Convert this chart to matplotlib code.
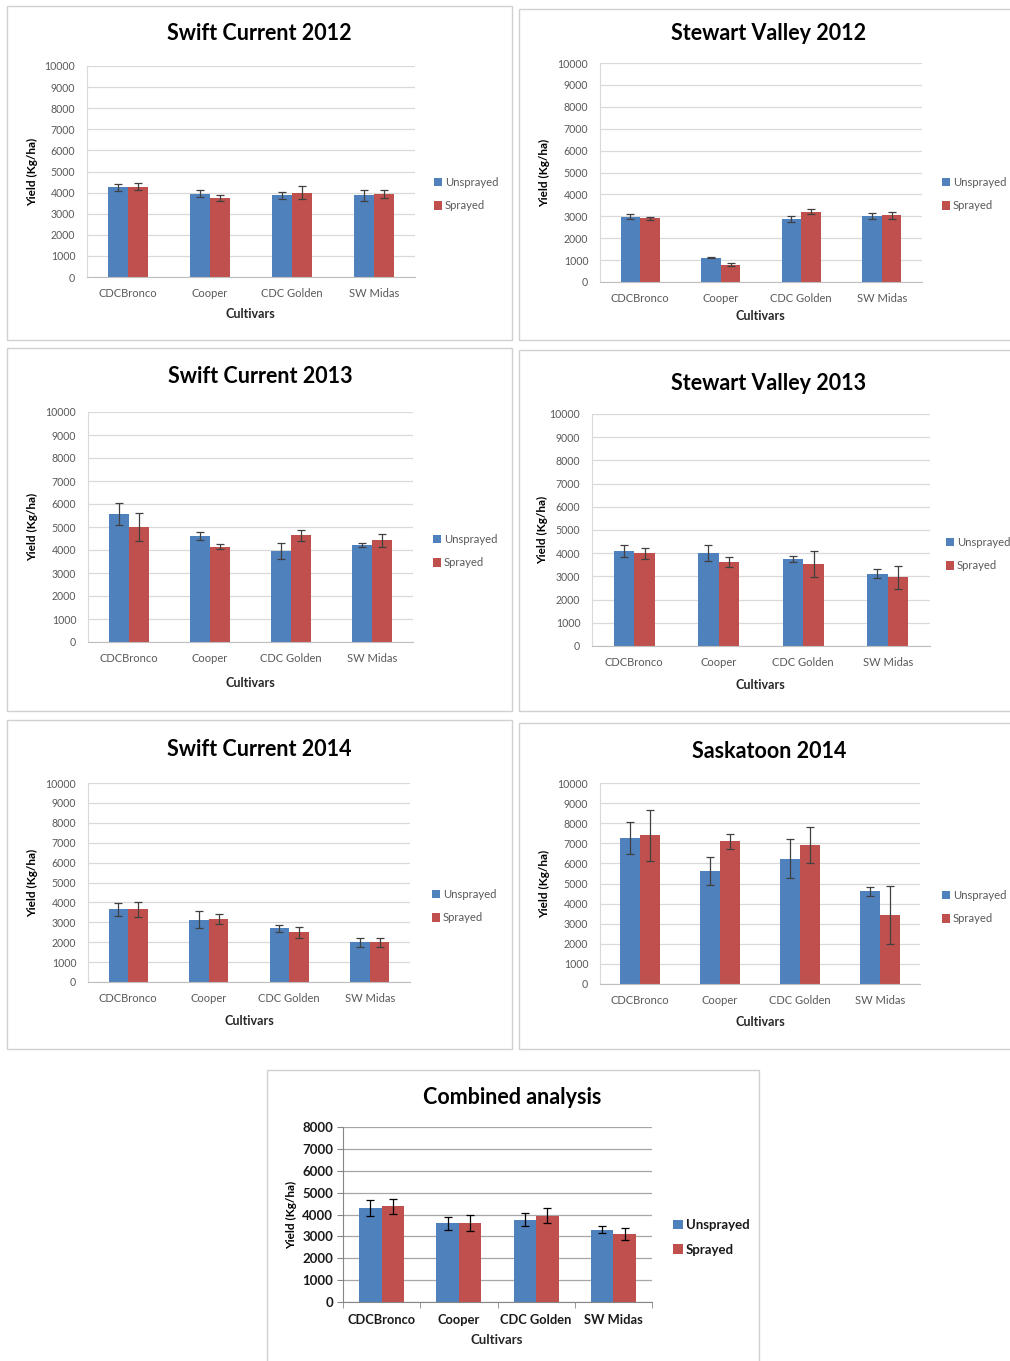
import matplotlib
matplotlib.use("Agg")
import matplotlib.pyplot as plt
from matplotlib.patches import Rectangle, Patch
import numpy as np

plt.rcParams['font.family'] = ['Lato', 'DejaVu Sans']

cultivars = ["CDCBronco", "Cooper", "CDC Golden", "SW Midas"]
series_names = ["Unsprayed", "Sprayed"]

# Swift Current 2012
sc2012_unsprayed = [4250, 3950, 3870, 3870]
sc2012_unsprayed_err = [170, 150, 150, 270]
sc2012_sprayed = [4280, 3750, 4000, 3920]
sc2012_sprayed_err = [180, 140, 290, 190]

# Stewart Valley 2012
sv2012_unsprayed = [2990, 1115, 2870, 3010]
sv2012_unsprayed_err = [110, 30, 145, 150]
sv2012_sprayed = [2900, 795, 3200, 3040]
sv2012_sprayed_err = [70, 75, 115, 175]

# Swift Current 2013
sc2013_unsprayed = [5580, 4620, 3970, 4220]
sc2013_unsprayed_err = [480, 165, 340, 70]
sc2013_sprayed = [4990, 4150, 4640, 4420]
sc2013_sprayed_err = [620, 120, 250, 275]

# Stewart Valley 2013
sv2013_unsprayed = [4100, 3990, 3730, 3120]
sv2013_unsprayed_err = [260, 345, 130, 180]
sv2013_sprayed = [3990, 3610, 3530, 2960]
sv2013_sprayed_err = [245, 215, 575, 500]

# Swift Current 2014
sc2014_unsprayed = [3650, 3140, 2690, 2000]
sc2014_unsprayed_err = [310, 410, 195, 220]
sc2014_sprayed = [3650, 3160, 2500, 2000]
sc2014_sprayed_err = [385, 250, 275, 220]

# Saskatoon 2014
sk2014_unsprayed = [7270, 5610, 6230, 4620]
sk2014_unsprayed_err = [800, 700, 970, 220]
sk2014_sprayed = [7400, 7100, 6920, 3440]
sk2014_sprayed_err = [1260, 360, 900, 1440]

# Combined analysis
comb_unsprayed = [4290, 3590, 3770, 3310]
comb_unsprayed_err = [370, 300, 305, 175]
comb_sprayed = [4370, 3620, 3950, 3115]
comb_sprayed_err = [335, 380, 345, 260]

BLUE = "#4F81BD"
RED = "#C0504D"
GRID = "#D9D9D9"
FRAME = "#D0D0D0"

W, H = 1010, 1361
fig = plt.figure(figsize=(W / 100, H / 100), dpi=100)
fig.patch.set_facecolor("white")


def fx(x):
    return x / W


def fy(y):
    return 1 - y / H


def frame(x0, y0, x1, y1):
    fig.patches.append(Rectangle((fx(x0), fy(y1)), fx(x1 - x0), (y1 - y0) / H,
                                 transform=fig.transFigure, fill=False,
                                 edgecolor=FRAME, linewidth=1.0, zorder=0))


def panel(box, title, title_xy, unspr, unspr_err, spr, spr_err, leg_xy, xlab_xy,
          ylab_x, ymax=10000, ystep=1000, width=0.245, combined=False):
    x0, y0, x1, y1 = box
    ax = fig.add_axes([fx(x0), fy(y1), fx(x1 - x0), (y1 - y0) / H])
    idx = np.arange(len(cultivars))
    ecol = "#000000" if combined else "#404040"
    ax.bar(idx - width / 2, unspr, width, color=BLUE, zorder=2,
           yerr=unspr_err, error_kw=dict(ecolor=ecol, elinewidth=0.9, capsize=3, capthick=0.9))
    ax.bar(idx + width / 2, spr, width, color=RED, zorder=2,
           yerr=spr_err, error_kw=dict(ecolor=ecol, elinewidth=0.9, capsize=3, capthick=0.9))
    ax.set_xlim(-0.5, len(cultivars) - 0.5)
    ax.set_ylim(0, ymax)
    ax.set_yticks(np.arange(0, ymax + 1, ystep))
    ax.yaxis.grid(True, color=GRID if not combined else "#A6A6A6", linewidth=0.9, zorder=0)
    ax.set_axisbelow(True)
    for s in ("top", "right"):
        ax.spines[s].set_visible(False)
    if combined:
        ax.spines["left"].set_color("#868686")
        ax.spines["bottom"].set_color("#868686")
        ax.set_xticks(idx)
        ax.set_xticklabels(cultivars, fontsize=9.3, fontweight="bold", color="#1A1A1A")
        ax.set_xticks(np.arange(-0.5, len(cultivars), 1.0), minor=True)
        ax.tick_params(axis="x", which="major", length=0, pad=9)
        ax.tick_params(axis="x", which="minor", length=4, color="#868686")
        ax.tick_params(axis="y", length=4, color="#868686", labelsize=9.5, labelcolor="#1A1A1A", pad=3)
        for lab in ax.get_yticklabels():
            lab.set_fontweight("bold")
    else:
        ax.spines["left"].set_color(GRID)
        ax.spines["bottom"].set_color("#BFBFBF")
        ax.set_xticks(idx)
        ax.set_xticklabels(cultivars, fontsize=8, color="#595959")
        ax.tick_params(axis="x", length=0, pad=8)
        ax.tick_params(axis="y", length=0, labelsize=7.6, labelcolor="#595959", pad=8.5)
    fig.text(fx(title_xy[0]), fy(title_xy[1]), title, ha="center", va="center",
             fontsize=15.5, fontweight="bold", color="#000000")
    fig.text(fx(xlab_xy[0]), fy(xlab_xy[1]), "Cultivars", ha="center", va="center",
             fontsize=9 if not combined else 9.5, fontweight="bold", color="#262626")
    fig.text(fx(ylab_x), fy((y0 + y1) / 2), "Yield (Kg/ha)", ha="center", va="center",
             rotation=90, fontsize=8.5, fontweight="bold", color="#000000")
    handles = [Patch(facecolor=BLUE, edgecolor="none"), Patch(facecolor=RED, edgecolor="none")]
    ax.legend(handles, series_names, loc="upper left",
              bbox_to_anchor=(fx(leg_xy[0]), fy(leg_xy[1])), bbox_transform=fig.transFigure,
              frameon=False, fontsize=8.1 if not combined else 9.5, borderpad=0, borderaxespad=0,
              handlelength=0.75, handleheight=0.75, handletextpad=0.2,
              labelspacing=1.1 if not combined else 0.95,
              labelcolor="#595959" if not combined else "#1A1A1A")
    if combined:
        leg = ax.get_legend()
        for t in leg.get_texts():
            t.set_fontweight("bold")
    return ax


# panel frames
frame(7, 6, 512, 340)
frame(519, 9, 1012, 340)
frame(7, 348, 512, 711)
frame(519, 350, 1012, 711)
frame(7, 720, 512, 1049)
frame(519, 723, 1012, 1049)
frame(267, 1070, 759, 1363)

panel((87, 66, 415, 277), "Swift Current 2012", (259, 33),
      sc2012_unsprayed, sc2012_unsprayed_err, sc2012_sprayed, sc2012_sprayed_err,
      (434, 177), (250, 314), 33)
panel((600, 63, 922, 282), "Stewart Valley 2012", (769, 34),
      sv2012_unsprayed, sv2012_unsprayed_err, sv2012_sprayed, sv2012_sprayed_err,
      (942, 177), (760, 316), 545)
panel((88, 412, 413, 642), "Swift Current 2013", (260, 377),
      sc2013_unsprayed, sc2013_unsprayed_err, sc2013_sprayed, sc2013_sprayed_err,
      (433, 534), (250, 683), 33)
panel((592, 414, 930, 646), "Stewart Valley 2013", (769, 383),
      sv2013_unsprayed, sv2013_unsprayed_err, sv2013_sprayed, sv2013_sprayed_err,
      (946, 537), (760, 685), 543)
panel((88, 783, 410, 982), "Swift Current 2014", (259, 750),
      sc2014_unsprayed, sc2014_unsprayed_err, sc2014_sprayed, sc2014_sprayed_err,
      (432, 889), (249, 1021), 33)
panel((600, 783, 920, 984), "Saskatoon 2014", (769, 751),
      sk2014_unsprayed, sk2014_unsprayed_err, sk2014_sprayed, sk2014_sprayed_err,
      (942, 890), (760, 1022), 545)
panel((343, 1127, 652, 1302), "Combined analysis", (512, 1097),
      comb_unsprayed, comb_unsprayed_err, comb_sprayed, comb_sprayed_err,
      (673, 1219), (497, 1340), 292, ymax=8000, width=0.29, combined=True)

fig.savefig("out.png", dpi=100, facecolor="white")
